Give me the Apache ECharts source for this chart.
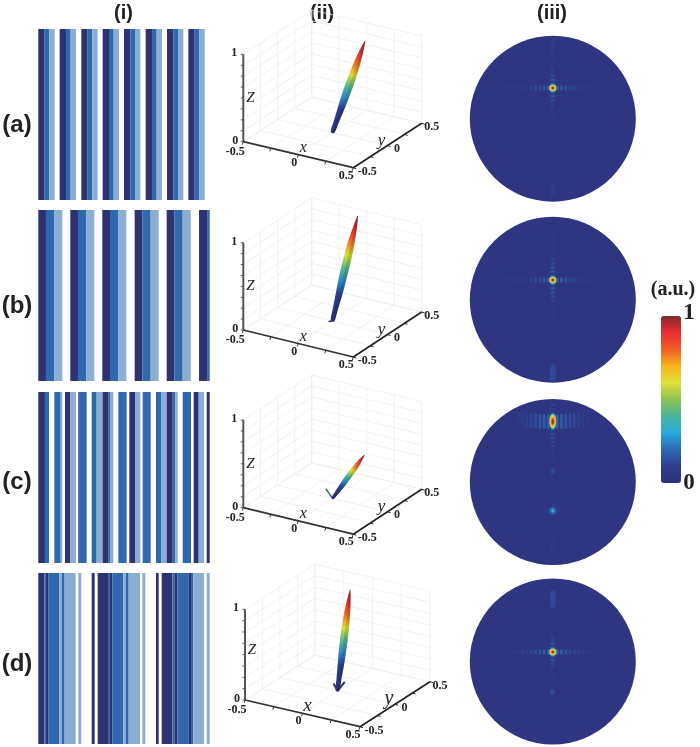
<!DOCTYPE html>
<html><head><meta charset="utf-8">
<style>html,body{margin:0;padding:0;background:#fff}#c{width:700px;height:747px;filter:blur(.3px)}</style>
<script src="https://cdn.jsdelivr.net/npm/echarts@6/dist/echarts.min.js"></script>
</head><body><div id="c"></div>
<script>
// ---- data: column (i) stripes [from, to, level] along the 514-unit grating width
const stripesA=[[0,19,1],[19,33,2],[33,49,3],[64,83,1],[83,97,2],[97,113,3],[129,148,1],[148,162,2],[162,178,3],[193,212,1],[212,226,2],[226,242,3],[257,276,1],[276,290,2],[290,306,3],[322,341,1],[341,355,2],[355,371,3],[386,405,1],[405,419,2],[419,435,3],[450,469,1],[469,483,2],[483,499,3]];
const stripesB=[[0,23,1],[23,48,2],[48,72,3],[96,119,1],[119,144,2],[144,168,3],[192,215,1],[215,240,2],[240,264,3],[289,312,1],[312,337,2],[337,361,3],[385,408,1],[408,433,2],[433,457,3],[482,508,1],[508,514,2]];
const stripesC=[[0,20,1],[20,32,2],[48,67,2],[67,72,3],[80,96,1],[96,113,3],[120,122,1],[122,145,2],[160,175,2],[175,193,3],[193,211,1],[211,215,2],[215,225,3],[240,265,2],[273,290,1],[290,306,3],[313,337,2],[353,368,2],[368,385,3],[385,403,1],[403,411,2],[411,418,3],[433,458,2],[466,481,1],[481,497,3],[505,514,1]];
const stripesD=[[0,18,1],[18,23,2],[23,31,1],[31,63,2],[63,70,3],[70,79,2],[79,112,3],[120,129,3],[160,169,1],[178,209,1],[209,215,2],[215,222,1],[222,255,2],[255,263,3],[263,271,2],[271,305,3],[312,321,3],[353,361,1],[370,402,1],[402,408,2],[408,417,1],[417,450,2],[450,458,1],[458,465,2],[465,497,3],[505,514,3]];
// ---- data: column (ii) main lobes [x, y, z, intensity]
const lobeA=[[0,0,0,0],[.02,.025,.12,.03],[.043,.05,.25,.1],[.064,.073,.37,.25],[.087,.098,.5,.42],[.108,.122,.62,.6],[.13,.148,.75,.78],[.151,.171,.87,.92],[.174,.197,1,1]];
const lobeB=[[0,0,0,0],[-.002,.047,.12,.03],[-.003,.098,.25,.1],[-.005,.144,.37,.25],[-.007,.195,.5,.42],[-.008,.242,.62,.6],[-.01,.292,.75,.78],[-.011,.339,.87,.92],[-.013,.39,1,1]];
const lobeC=[[0,0,0,0],[.001,.054,.032,.03],[.003,.113,.068,.1],[.004,.167,.1,.25],[.005,.225,.135,.42],[.006,.279,.167,.6],[.008,.338,.2,.78],[.009,.392,.235,.92],[.01,.45,.27,1]];
const lobeD=[[0,0,0,0],[-.003,.026,.12,.03],[-.005,.054,.25,.1],[-.008,.08,.37,.25],[-.011,.108,.5,.42],[-.014,.134,.62,.6],[-.017,.162,.75,.78],[-.019,.188,.87,.92],[-.022,.216,1,1]];
// small side lobes at the foot of the main lobe [x, y, z]
const footA=[], footB=[[-.02,-.024,0],[0,0,0]];
const footC=[[-.142,.132,0],[0,0,0]];
const footD=[[-.099,.106,0],[0,0,0],[-.043,.175,0]];
// axis ticks
const xyTicks=[-.5,-.25,0,.25,.5];
const zTicks=[0,.125,.25,.375,.5,.625,.75,.875,1];
const xyLabels=[[-.5,'-0.5'],[0,'0'],[.5,'0.5']];
const zLabels=[[0,'0'],[1,'1']];
// ---- data: column (iii) far-field intensity
const peakV=[.37,.237,.73,.115];
const rowVals=[
 [.2,.17,.15,.13,.11,.1,.09,.08,.08,.07,.07,.07,.07,.07,.06,.06],
 [.2,.18,.15,.13,.11,.1,.09,.08,.08,.07,.07,.07,.06,.06,.06,.05,.05],
 [.2,.19,.17,.15,.13,.11,.09,.07,.05],
 [.22,.2,.17,.14,.12,.1,.09,.08,.08,.07,.07,.06,.06,.06,.05,.05,.05]];
const rowRise=[
 [0,0,0,0,0,0,.005,.01,.015,.02,.03,.04,.05,.07,.09,.11],
 [0,0,0,0,0,0,0,0,0,.005,.01,.01,.015,.02,.03,.04,.05],
 [0,0,0,.005,.01,.015,.02,.035,.05],
 [0,0,0,0,0,0,0,0,0,0,.005,.005,.01,.01,.015,.02,.03]];
const upVals=[
 [.2,.17,.14,.11,.09,.08,.08,.09,.1,.11,.11,.08],
 [.2,.18,.16,.14,.12,.1,.09,.08,.07,.06,.06,.05,.05,.04,.04],
 [.18,.14,.1,.12,.15,.17],
 [.18,.15,.12,.09,.07,.06,.05,.05,.05,.06,.07,.09,.09,.07,.06,.05,.04]];
const downVals=[
 [.2,.17,.14,.11,.09,.08,.07,.06,.05,.05,.04,.04,.04,.04,.04,.04,.04,.04,.04,.04,.04,.04,.04],
 [.2,.17,.15,.13,.11,.1,.09,.08,.07,.06,.05,.05,.05,.04,.04,.04,.04,.04,.04,.04],
 [.18,.16,.14,.13,.12,.11,.1,.09,.08,.07,.06,.06,.05,.05,.05,.05,.04,.04,.04,.05,.05,.04,.04,.04,.04,.04,.05,.06,.07,.05,.04,.04],
 [.18,.15,.12,.09,.08,.07,.06,.05,.05,.04,.04,.04,.04,.04,.04,.04,.04,.04,.04]];
const blobs=[
 [[0,.88,.08],[0,-.86,.09]],
 [[0,-.88,.13],[0,.72,.05]],
 [[0,.13,.14],[0,-.78,.07],[.05,-.345,.1],[-.05,-.345,.1],[.1,-.345,.06],[-.1,-.345,.06],[.15,-.345,.05],[-.15,-.345,.05],[.2,-.345,.04],[-.2,-.345,.04],[0,-.3,.1],[0,-.39,.1]],
 [[0,.75,.13],[0,-.367,.14]]];
const spots=[[[0,.37,1]],[[0,.237,1]],[[0,.73,1],[0,-.345,.36]],[[0,.115,1]]];
// colour bar
const scaleRange=[0,1];
const panelLabels=['(a)','(b)','(c)','(d)'];
const columnTitles=['(i)','(ii)','(iii)'];

// ---- styles and layout
const levelColor={1:'#2f3272',2:'#3068ae',3:'#8aaed3'};
const jet=['#2e3179','#2f3f8f','#2f69b0','#29a8de','#4ab59a','#8cc253','#dfe03a','#f7b41e','#f15d26','#ed2e32','#7d2b2c'];
const stripePanels=[stripesA,stripesB,stripesC,stripesD];
const stripeTop=[29,210,392,573], stripeH=171;
const lobes=[lobeA,lobeB,lobeC,lobeD], feet=[footA,footB,footC,footD];
const lobeHalf=[1.8,2.6,3.3,3.8,4,3.9,3.3,2.2,.3], lobeScale=[1,1,.72,.95];
const box=[
 {o:[243.3,141.7],X:[110,26],Y:[68.4,-44.4],Z:87.4,top:0},
 {o:[243.3,330],X:[110,27],Y:[68.4,-45],Z:87.3,top:190},
 {o:[243.3,507.7],X:[110,26.5],Y:[68.4,-45],Z:87.7,top:370},
 {o:[245,700],X:[115,26.7],Y:[70,-45],Z:90.7,top:550}];
const discCY=[118.7,299.7,482,661.5], discR=83, discCX=552.8;
const rowPitch=.052, colPitch=.05, rowBarH=[5,5,15,5];
const levelsD=[[.14,8],[.22,5.6],[.3,3.4],[.36,2.2],[.45,7.2],[.6,6.6],[.7,5],[.85,3.6],[1,2.4]];
const bigSpotLevels=[.14,.3,.45,.6,.7,.85,1], bigSpotSize=[8,7.6,7.2,6.6,5,3.6,2.4];

const grids=[],xAxes=[],yAxes=[],series=[];
function addGrid(l,t,w,h,xmin,xmax,ymin,ymax,inv){
  const i=grids.length;
  grids.push({left:l,top:t,width:w,height:h,show:false});
  xAxes.push({gridIndex:i,type:'value',min:xmin,max:xmax,show:false});
  yAxes.push({gridIndex:i,type:'value',min:ymin,max:ymax,show:false,inverse:!!inv});
  return i;
}
// (i) stripes
stripePanels.forEach((st,p)=>{
  const g=addGrid(38.3,stripeTop[p],171.4,stripeH,0,514,0,1);
  series.push({type:'custom',xAxisIndex:g,yAxisIndex:g,clip:true,silent:true,data:st,
    encode:{x:[0,1]},
    renderItem:(params,api)=>{
      const a=api.coord([api.value(0),1]),b=api.coord([api.value(1),0]);
      return {type:'rect',shape:{x:a[0],y:a[1],width:b[0]-a[0],height:b[1]-a[1]},
        style:{fill:levelColor[api.value(2)]}};
    }});
});
// (ii) projected 3D boxes
box.forEach((B,p)=>{
  const g=addGrid(220,B.top,220,190,220,440,B.top,B.top+190,true);
  const proj=(x,y,z)=>[B.o[0]+(x+.5)*B.X[0]+(y+.5)*B.Y[0], B.o[1]+(x+.5)*B.X[1]+(y+.5)*B.Y[1]-z*B.Z];
  const segs=[];
  const add=(a,b,c,w)=>segs.push([a[0],a[1],b[0],b[1],c,w]);
  const GC='#ececec';
  xyTicks.forEach(t=>{
    add(proj(t,-.5,0),proj(t,.5,0),GC,.7);
    add(proj(-.5,t,0),proj(.5,t,0),GC,.7);
    add(proj(-.5,t,0),proj(-.5,t,1),GC,.7);
    add(proj(t,.5,0),proj(t,.5,1),GC,.7);
  });
  zTicks.forEach(t=>{
    add(proj(-.5,-.5,t),proj(-.5,.5,t),GC,.7);
    add(proj(-.5,.5,t),proj(.5,.5,t),GC,.7);
  });
  add(proj(-.5,-.5,0),proj(-.5,-.5,1),'#555',2);
  add(proj(-.5,-.5,0),proj(.5,-.5,0),'#333',1.7);
  add(proj(.5,-.5,0),proj(.5,.5,0),'#222',1.7);
  zTicks.forEach(t=>{const q=proj(-.5,-.5,t);add([q[0]-2.5,q[1]],q,'#555',1);});
  xyTicks.forEach(t=>{
    const q=proj(t,-.5,0);add(q,[q[0]-1,q[1]+3],'#333',1);
    const r=proj(.5,t,0);add(r,[r[0]+3,r[1]+1],'#222',1);
  });
  series.push({type:'custom',xAxisIndex:g,yAxisIndex:g,clip:false,silent:true,data:segs,encode:{x:[0,2],y:[1,3]},
    renderItem:(params,api)=>{
      const s=segs[params.dataIndex],a=api.coord([s[0],s[1]]),b=api.coord([s[2],s[3]]);
      return {type:'line',shape:{x1:a[0],y1:a[1],x2:b[0],y2:b[1]},style:{stroke:s[4],lineWidth:s[5]}};
    }});
  // lobe
  const L=lobes[p], pts=L.map(s=>proj(s[0],s[1],s[2]));
  if(feet[p].length){
    const f=feet[p].map(s=>proj(s[0],s[1],s[2]));
    series.push({type:'line',xAxisIndex:g,yAxisIndex:g,data:f,symbol:'none',silent:true,clip:false,z:3,
      lineStyle:{color:p===2?'#3a6468':'#2f3272',width:p===3?2:1.4},animation:false});
  }
  series.push({type:'custom',xAxisIndex:g,yAxisIndex:g,clip:false,silent:true,z:4,data:pts,encode:{x:0,y:1},
    renderItem:(params,api)=>{
      if(params.dataIndex!==0)return null;
      const c=pts.map(q=>api.coord(q));
      const a=c[0],b=c[c.length-1];
      const dx=b[0]-a[0],dy=b[1]-a[1],len=Math.hypot(dx,dy),nx=-dy/len,ny=dx/len;
      const left=c.map((q,i)=>[q[0]-nx*lobeHalf[i]*lobeScale[p],q[1]-ny*lobeHalf[i]*lobeScale[p]]);
      const right=c.map((q,i)=>[q[0]+nx*lobeHalf[i]*lobeScale[p],q[1]+ny*lobeHalf[i]*lobeScale[p]]);
      const n=L.length-1;
      const stops=L.map((s,i)=>({offset:i/n,color:echarts.color.lerp(s[3],jet)}));
      const fill={type:'linear',x:a[0],y:a[1],x2:b[0],y2:b[1],global:true,colorStops:stops};
      return {type:'group',children:[
        {type:'polygon',shape:{points:left.concat(right.slice().reverse()),smooth:.3},style:{fill}},
        {type:'polygon',shape:{points:c.concat(right.slice().reverse()),smooth:.3},style:{fill:'rgba(0,0,0,.14)'}}
      ]};
    }});
  // tick labels and axis names
  const f='bold 12px "Liberation Serif"', nameF=(s)=>'italic '+s+'px "Liberation Serif"';
  const texts=[];
  xyLabels.forEach(([t,s],i)=>{
    const q=proj(t,-.5,0); texts.push([q[0]+[-8,-4,-7][i],q[1]+[10,8,8][i],s,f]);
    const r=proj(.5,t,0); texts.push([r[0]+[14,9.5,10][i],r[1]+[4,3.5,4][i],s,f]);
  });
  zLabels.forEach(([t,s],i)=>{
    const q=proj(-.5,-.5,t); texts.push([q[0]+[-8,-9][i],q[1]+[-1,-1][i],s,f]);
  });
  const zq=proj(-.5,-.5,.5),xq=proj(0,-.5,0),yq=proj(.5,0,0);
  texts.push([zq[0]+7,zq[1]+(p===3?-5:0),'Z',nameF(15)]);
  texts.push([xq[0]+5,xq[1]-7,'x',nameF(p===3?19:16)]);
  texts.push([yq[0]-6,yq[1]-5,'y',nameF(p===3?20:17)]);
  series.push({type:'custom',xAxisIndex:g,yAxisIndex:g,clip:false,silent:true,z:5,data:texts.map(t=>[t[0],t[1]]),encode:{x:0,y:1},
    renderItem:(params,api)=>{
      const t=texts[params.dataIndex],a=api.coord([t[0],t[1]]);
      return {type:'text',style:{x:a[0],y:a[1],text:t[2],font:t[3],fill:'#222',align:'center',verticalAlign:'middle'}};
    }});
});
// (iii) far field discs
const vmSeries=[];
discCY.forEach((cy,p)=>{
  const g=addGrid(discCX-discR,cy-discR,2*discR,2*discR,-1,1,-1,1);
  series.push({type:'custom',xAxisIndex:g,yAxisIndex:g,clip:false,silent:true,data:[[0,0]],encode:{x:0,y:1},
    renderItem:(params,api)=>{
      const c=api.coord([0,0]),s=api.size([2,2]);
      return {type:'circle',shape:{cx:c[0],cy:c[1],r:s[0]/2},style:{fill:'#2f3580'}};
    }});
  const v0=peakV[p];
  const row=[];
  rowVals[p].forEach((val,k)=>{
    const u=(k+1)*rowPitch,v=v0+rowRise[p][k];
    row.push([u,v,val],[-u,v,val]);
  });
  const col=[];
  upVals[p].forEach((val,k)=>{const v=v0+(k+1)*colPitch; if(v<.98)col.push([0,v,val]);});
  downVals[p].forEach((val,k)=>{const v=v0-(k+1)*colPitch; if(v>-.98)col.push([0,v,val]);});
  const base=(d,sym,size)=>{
    vmSeries.push(series.length);
    series.push({type:'scatter',xAxisIndex:g,yAxisIndex:g,data:d,symbol:sym,symbolSize:size,silent:true,clip:false,z:3,
      encode:{x:0,y:1},animation:false});
  };
  base(row,'roundRect',[2.8,rowBarH[p]]);
  base(col,'roundRect',[4.6,2.6]);
  base(blobs[p],'roundRect',(val)=>val[2]>.1&&Math.abs(val[0])<.01&&Math.abs(val[1])>.5?[6,17]:(val[0]===0&&Math.abs(val[1])>.5?[5,14]:[4.5,5]));
  // contours of the bright spots, drawn from the rim inward
  const cont=[];
  spots[p].forEach(s=>{
    if(s[2]>=1) bigSpotLevels.forEach(lv=>cont.push([s[0],s[1],lv,1]));
    else levelsD.forEach(([lv])=>{if(lv<=s[2])cont.push([s[0],s[1],lv,0]);});
  });
  vmSeries.push(series.length);
  series.push({type:'scatter',xAxisIndex:g,yAxisIndex:g,data:cont,symbol:'circle',silent:true,clip:false,z:4,encode:{x:0,y:1},animation:false,
    symbolSize:(val)=>{
      if(!val[3]) return levelsD.find(l=>l[0]===val[2])[1];
      const d=bigSpotSize[bigSpotLevels.indexOf(val[2])];
      return Math.abs(val[1])>.6?[d*.95,d*2.1]:[d,d];
    }});
});
const fT='bold 20px "Liberation Sans"', fL='bold 24px "Liberation Sans"';
const gfx=[];
[123.5,322,552].forEach((x,i)=>gfx.push({type:'text',x,y:13,style:{text:columnTitles[i],font:fT,fill:'#222',align:'center',verticalAlign:'middle'}}));
[125,306,482,664].forEach((y,i)=>gfx.push({type:'text',x:17,y,style:{text:panelLabels[i],font:fL,fill:'#222',align:'center',verticalAlign:'middle'}}));
gfx.push({type:'text',x:673,y:290,style:{text:'(a.u.)',font:'bold 20px "Liberation Serif"',fill:'#222',align:'center',verticalAlign:'middle'}});
gfx.push({type:'text',x:689,y:313,style:{text:'1',font:'bold 23px "Liberation Serif"',fill:'#222',align:'center',verticalAlign:'middle'}});
gfx.push({type:'text',x:689,y:483,style:{text:'0',font:'bold 23px "Liberation Serif"',fill:'#222',align:'center',verticalAlign:'middle'}});

const chart=echarts.init(document.getElementById('c'),null,{renderer:'canvas'});
chart.setOption({
  animation:false,backgroundColor:'#fff',
  grid:grids,xAxis:xAxes,yAxis:yAxes,series,graphic:{elements:gfx},
  visualMap:{type:'continuous',min:scaleRange[0],max:scaleRange[1],dimension:2,seriesIndex:vmSeries,calculable:false,
    orient:'vertical',left:661,top:316,itemWidth:20,itemHeight:167,padding:0,text:null,showLabel:false,borderRadius:0,
    inRange:{color:jet},hoverLink:false}
});
</script></body></html>
